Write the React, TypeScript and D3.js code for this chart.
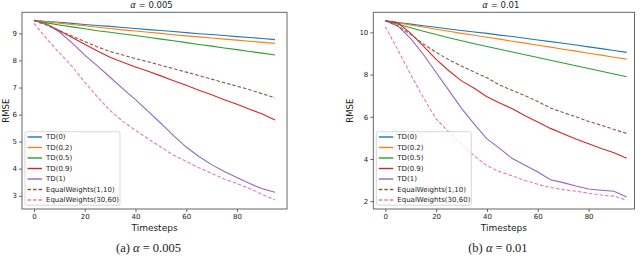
import React, { useRef, useEffect } from 'react';
import * as d3 from 'd3';

const timesteps = [0, 5, 10, 15, 20, 25, 30, 35, 40, 45, 50, 55, 60, 65, 70, 75, 80, 85, 90, 95];
const seriesNames = ['TD(0)', 'TD(0.2)', 'TD(0.5)', 'TD(0.9)', 'TD(1)', 'EqualWeights(1,10)', 'EqualWeights(30,60)'];
const xTicks = [0, 20, 40, 60, 80];

// panel (a), alpha = 0.005
const td0A = [9.48, 9.44, 9.41, 9.37, 9.33, 9.29, 9.26, 9.22, 9.18, 9.14, 9.11, 9.07, 9.03, 8.99, 8.96, 8.92, 8.88, 8.85, 8.81, 8.77];
const td02A = [9.48, 9.43, 9.38, 9.33, 9.28, 9.23, 9.18, 9.13, 9.09, 9.04, 9.0, 8.95, 8.91, 8.87, 8.83, 8.79, 8.75, 8.71, 8.67, 8.63];
const td05A = [9.48, 9.39, 9.31, 9.24, 9.17, 9.1, 9.04, 8.98, 8.92, 8.86, 8.79, 8.73, 8.66, 8.59, 8.53, 8.46, 8.4, 8.33, 8.27, 8.2];
const td09A = [9.48, 9.35, 9.1, 8.85, 8.6, 8.35, 8.12, 7.93, 7.76, 7.6, 7.43, 7.25, 7.08, 6.9, 6.73, 6.55, 6.38, 6.2, 6.02, 5.8];
const td1A = [9.48, 9.35, 9.05, 8.65, 8.2, 7.8, 7.38, 6.96, 6.55, 6.12, 5.68, 5.22, 4.8, 4.45, 4.15, 3.9, 3.67, 3.45, 3.26, 3.13];
const ew110A = [9.48, 9.3, 9.1, 8.9, 8.7, 8.5, 8.33, 8.2, 8.07, 7.95, 7.82, 7.7, 7.57, 7.44, 7.31, 7.18, 7.05, 6.92, 6.77, 6.62];
const ew3060A = [9.37, 8.8, 8.28, 7.78, 7.2, 6.65, 6.15, 5.75, 5.42, 5.1, 4.8, 4.5, 4.27, 4.03, 3.83, 3.62, 3.45, 3.27, 3.05, 2.84];
const yTicksA = [3, 4, 5, 6, 7, 8, 9];

// panel (b), alpha = 0.01
const td0B = [10.55, 10.47, 10.39, 10.31, 10.24, 10.16, 10.09, 10.02, 9.95, 9.87, 9.8, 9.72, 9.64, 9.56, 9.48, 9.4, 9.31, 9.23, 9.14, 9.05];
const td02B = [10.55, 10.45, 10.35, 10.25, 10.15, 10.05, 9.95, 9.86, 9.77, 9.68, 9.58, 9.49, 9.39, 9.3, 9.2, 9.11, 9.01, 8.92, 8.82, 8.73];
const td05B = [10.55, 10.38, 10.22, 10.05, 9.9, 9.74, 9.6, 9.46, 9.33, 9.2, 9.07, 8.94, 8.81, 8.68, 8.55, 8.42, 8.29, 8.16, 8.03, 7.9];
const td09B = [10.55, 10.45, 9.95, 9.35, 8.72, 8.18, 7.7, 7.35, 6.95, 6.65, 6.38, 6.05, 5.75, 5.45, 5.2, 4.95, 4.72, 4.5, 4.3, 4.03];
const td1B = [10.55, 10.3, 9.7, 8.95, 8.1, 7.25, 6.4, 5.65, 4.95, 4.5, 4.02, 3.7, 3.38, 3.02, 2.88, 2.72, 2.58, 2.52, 2.47, 2.2];
const ew110B = [10.55, 10.3, 9.9, 9.45, 9.05, 8.7, 8.4, 8.12, 7.85, 7.5, 7.25, 7.0, 6.72, 6.42, 6.2, 6.0, 5.78, 5.6, 5.4, 5.21];
const ew3060B = [10.27, 9.15, 8.0, 6.9, 5.9, 5.28, 4.7, 4.15, 3.68, 3.4, 3.2, 2.98, 2.8, 2.65, 2.55, 2.47, 2.38, 2.29, 2.24, 2.05];
const yTicksB = [2, 4, 6, 8, 10];

const colors = ['#1f77b4', '#ff7f0e', '#2ca02c', '#d62728', '#9467bd', '#8c564b', '#e377c2'];
const dashes = [null, null, null, null, null, '3.5,2', '3.5,2'];

const panels = [
  {
    series: [td0A, td02A, td05A, td09A, td1A, ew110A, ew3060A],
    yTicks: yTicksA, yDomain: [2.51, 9.78],
    box: [22, 287], x0: 34, x95: 275,
    title: '0.005', caption: '(a)', rmseX: 9,
  },
  {
    series: [td0B, td02B, td05B, td09B, td1B, ew110B, ew3060B],
    yTicks: yTicksB, yDomain: [1.63, 10.95],
    box: [373.3, 634.5], x0: 385.3, x95: 626.7,
    title: '0.01', caption: '(b)', rmseX: 353,
  },
];

const top = 12.3, bottom = 209;
const font = 'DejaVu Sans, sans-serif';

const App: React.FC = () => {
  const svgRef = useRef<SVGSVGElement>(null);

  useEffect(() => {
    const svg = d3.select(svgRef.current);
    svg.selectAll('*').remove();

    panels.forEach(p => {
      const x = d3.scaleLinear().domain([0, 95]).range([p.x0, p.x95]);
      const y = d3.scaleLinear().domain(p.yDomain).range([bottom, top]);
      const g = svg.append('g');
      const cx = (p.box[0] + p.box[1]) / 2;

      g.append('rect')
        .attr('x', p.box[0]).attr('y', top)
        .attr('width', p.box[1] - p.box[0]).attr('height', bottom - top)
        .attr('fill', 'white').attr('stroke', '#555').attr('stroke-width', 0.9);

      const xAxis = g.append('g').attr('transform', `translate(0,${bottom})`)
        .call(d3.axisBottom(x).tickValues(xTicks).tickSize(3).tickPadding(2));
      const yAxis = g.append('g').attr('transform', `translate(${p.box[0]},0)`)
        .call(d3.axisLeft(y).tickValues(p.yTicks).tickSize(3).tickPadding(2));
      [xAxis, yAxis].forEach(a => {
        a.select('.domain').remove();
        a.selectAll('line').attr('stroke', '#444').attr('stroke-width', 0.8);
        a.selectAll('text').attr('font-family', font).attr('font-size', 7).attr('fill', '#222');
      });

      const line = d3.line<number>()
        .x((_, i) => x(timesteps[i]))
        .y(d => y(d));

      p.series.forEach((s, i) => {
        g.append('path')
          .attr('d', line(s))
          .attr('fill', 'none')
          .attr('stroke', colors[i])
          .attr('stroke-width', 1.1)
          .attr('stroke-dasharray', dashes[i]);
      });

      // legend
      const lx = p.box[0] + 3, ly = 131.7;
      const lg = g.append('g');
      lg.append('rect')
        .attr('x', lx).attr('y', ly).attr('width', 95).attr('height', 73.5)
        .attr('rx', 2).attr('fill', 'white').attr('fill-opacity', 0.8)
        .attr('stroke', '#ccc').attr('stroke-width', 0.8);
      seriesNames.forEach((name, i) => {
        const yy = ly + 5.3 + i * 10.5;
        lg.append('line')
          .attr('x1', lx + 2.5).attr('x2', lx + 17)
          .attr('y1', yy).attr('y2', yy)
          .attr('stroke', colors[i]).attr('stroke-width', 1.4)
          .attr('stroke-dasharray', dashes[i]);
        lg.append('text')
          .attr('x', lx + 21).attr('y', yy).attr('dy', '0.35em')
          .attr('font-family', font).attr('font-size', 7).attr('fill', '#222')
          .text(name);
      });

      // titles and labels
      const t = g.append('text')
        .attr('x', cx - 3).attr('y', 8)
        .attr('text-anchor', 'middle').attr('font-family', font)
        .attr('font-size', 8.5).attr('fill', '#222');
      t.append('tspan').attr('font-style', 'italic').text('α');
      t.append('tspan').text(` = ${p.title}`);

      g.append('text')
        .attr('x', cx).attr('y', 231)
        .attr('text-anchor', 'middle').attr('font-family', font)
        .attr('font-size', 9).attr('fill', '#222')
        .text('Timesteps');

      g.append('text')
        .attr('transform', `translate(${p.rmseX},${(top + bottom) / 2}) rotate(-90)`)
        .attr('text-anchor', 'middle').attr('font-family', font)
        .attr('font-size', 8.5).attr('fill', '#222')
        .text('RMSE');

      const c = g.append('text')
        .attr('x', cx - 6).attr('y', 251.5)
        .attr('text-anchor', 'middle').attr('font-family', 'Liberation Serif, serif')
        .attr('font-size', 12.5).attr('fill', '#222');
      c.append('tspan').text(`${p.caption} `);
      c.append('tspan').attr('font-style', 'italic').text('α');
      c.append('tspan').text(` = ${p.title}`);
    });
  }, []);

  return (
    <svg ref={svgRef} width={640} height={256}
      style={{ position: 'absolute', left: 0, top: 0, background: 'white' }} />
  );
};

export default App;
